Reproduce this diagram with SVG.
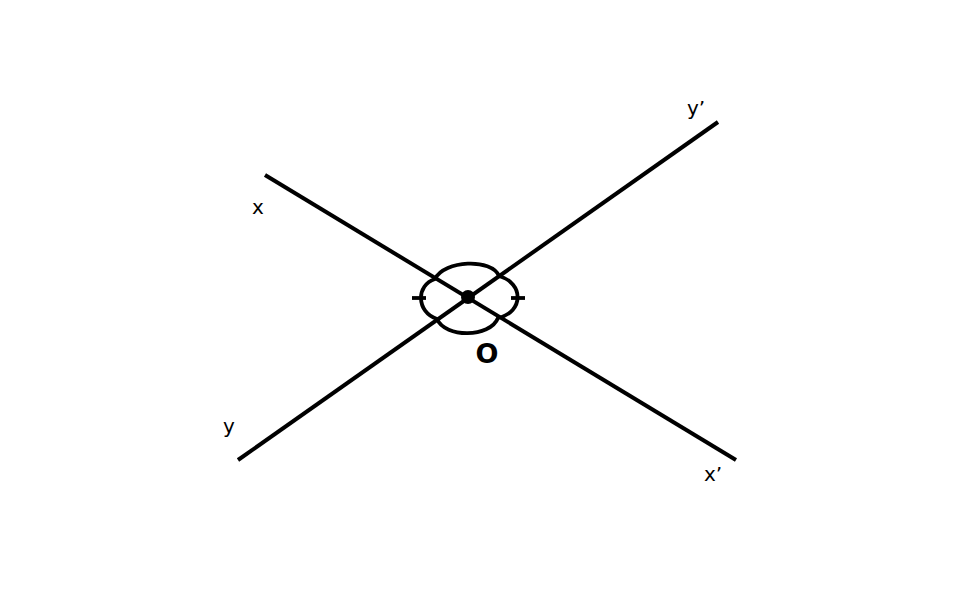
<svg xmlns="http://www.w3.org/2000/svg" width="960" height="600" viewBox="0 0 960 600">
<style>
.ln{stroke:#000;stroke-width:4;fill:none;stroke-linecap:butt}
.ar{stroke:#000;stroke-width:3.8;fill:none}
.lb{font-family:"DejaVu Sans","Liberation Sans",sans-serif;font-size:20px;fill:#000}
.o{font-family:"DejaVu Sans","Liberation Sans",sans-serif;font-size:27px;font-weight:bold;fill:#000}
</style>
<rect width="960" height="600" fill="#fff"/>
<g id="connectors">
<line id="line-xx" class="ln" x1="265" y1="175" x2="736" y2="460"/>
<line id="line-yy" class="ln" x1="238" y1="460" x2="718" y2="122"/>
</g>
<g id="angles">
<path class="ar" d="M435,279 C444,260 492,258 499,276 C524,283 524,312 498,318 C490,338 445,338 437,319 C416,312 416,285 435,279 Z"/>
<line class="ar" x1="412" y1="298" x2="426" y2="298"/>
<line class="ar" x1="511" y1="298" x2="525" y2="298"/>
</g>
<g id="O">
<circle cx="468" cy="297" r="7" fill="#000"/>
<text class="o" x="487" y="363" text-anchor="middle">O</text>
</g>
<g id="labels">
<text class="lb" x="258" y="214" text-anchor="middle">x</text>
<text class="lb" x="229" y="433" text-anchor="middle">y</text>
<text class="lb" x="687" y="115">y’</text>
<text class="lb" x="704" y="481">x’</text>
</g>
</svg>
